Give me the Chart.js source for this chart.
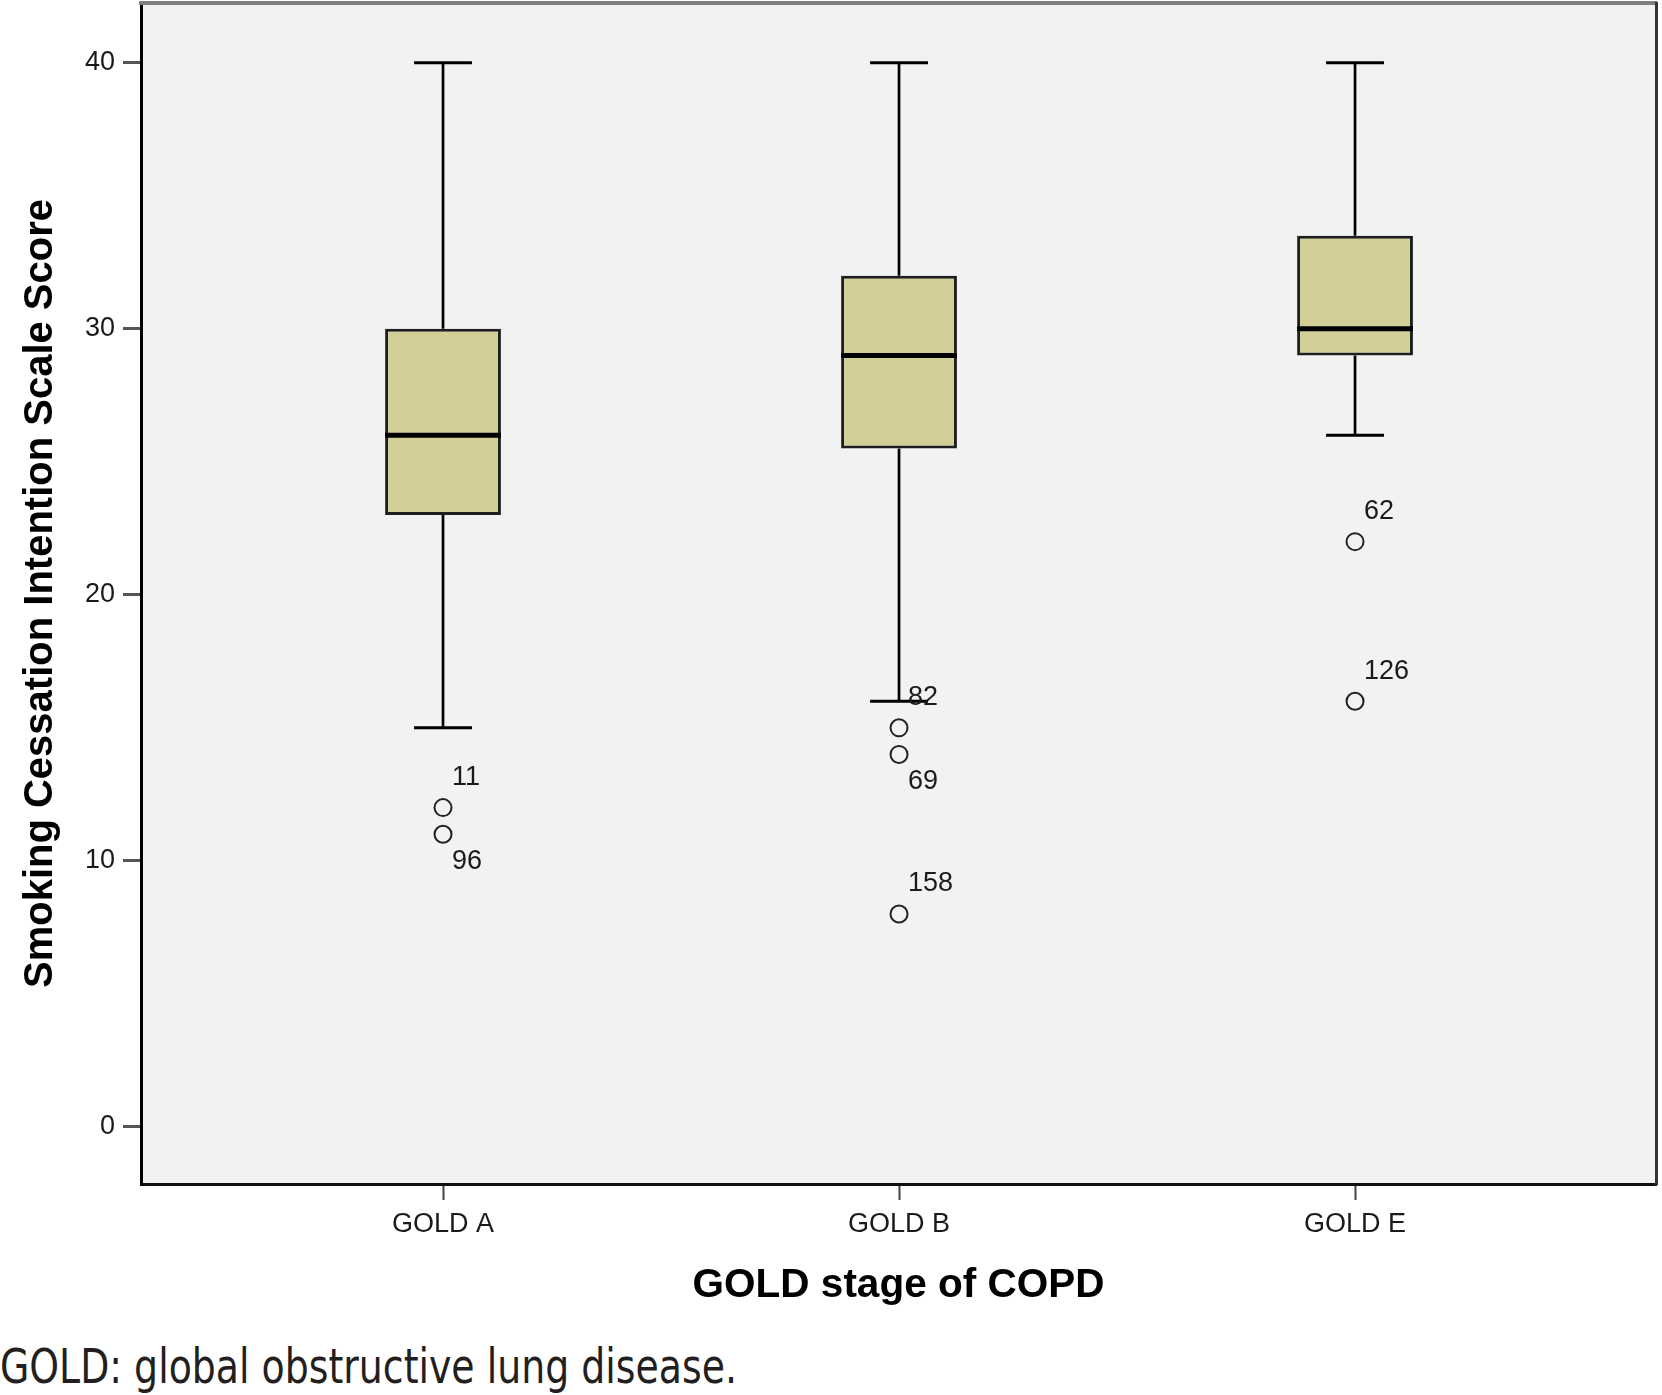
<!DOCTYPE html>
<html>
<head>
<meta charset="utf-8">
<script src="https://cdn.jsdelivr.net/npm/chart.js@4.4.1/dist/chart.umd.min.js"></script>
<style>
html,body{margin:0;padding:0;background:#fff;}
#wrap{position:relative;width:1662px;height:1395px;overflow:hidden;background:#fff;}
#c{position:absolute;left:0;top:0;}
#caption{position:absolute;left:0;top:1342px;font-family:'Liberation Sans Narrow','DejaVu Sans Condensed','Liberation Sans',sans-serif;font-size:48px;line-height:1;white-space:nowrap;color:#231f20;transform-origin:0 0;}
</style>
</head>
<body>
<div id="wrap">
<canvas id="c" width="1662" height="1320" style="width:1662px;height:1320px;"></canvas>
<div id="caption">GOLD: global obstructive lung disease.</div>
</div>
<script>
// ---- data ----
const categories = ['GOLD A', 'GOLD B', 'GOLD E'];
const whiskerLow = [15, 16, 26];
const q1 = [23, 25.5, 29];
const median = [26, 29, 30];
const q3 = [30, 32, 33.5];
const whiskerHigh = [40, 40, 40];
const outlierCategory = [0, 0, 1, 1, 1, 2, 2];
const outlierValues = [12, 11, 15, 14, 8, 22, 16];
const outlierLabels = ['11', '96', '82', '69', '158', '62', '126'];
const outlierLabelSide = ['above', 'below', 'above', 'below', 'above', 'above', 'above'];
const yTicks = [0, 10, 20, 30, 40];
const xTitle = 'GOLD stage of COPD';
const yTitle = 'Smoking Cessation Intention Scale Score';

// ---- derived datasets ----
const boxHalf = 0.127, capHalf = 0.0635;
const boxData = categories.map((c, i) => ({x: i, y: [q1[i], q3[i]]}));
const medianData = [];
const whiskerData = [];
const capData = [];
categories.forEach((c, i) => {
  medianData.push({x: i - boxHalf, y: median[i]}, {x: i + boxHalf, y: median[i]}, {x: i + boxHalf, y: null});
  whiskerData.push({x: i, y: q3[i]}, {x: i, y: whiskerHigh[i]}, {x: i, y: null},
                   {x: i, y: q1[i]}, {x: i, y: whiskerLow[i]}, {x: i, y: null});
  capData.push({x: i - capHalf, y: whiskerHigh[i]}, {x: i + capHalf, y: whiskerHigh[i]}, {x: i + capHalf, y: null},
               {x: i - capHalf, y: whiskerLow[i]}, {x: i + capHalf, y: whiskerLow[i]}, {x: i + capHalf, y: null});
});
const outlierData = outlierValues.map((v, k) => ({x: outlierCategory[k], y: v}));

Chart.defaults.font.family = "'Liberation Sans', Arial, sans-serif";
Chart.defaults.color = '#1a1a1a';

const plotBg = {
  id: 'plotBg',
  beforeDraw(chart) {
    const {ctx, chartArea: a} = chart;
    ctx.save();
    ctx.fillStyle = '#F2F2F2';
    ctx.fillRect(a.left, a.top, a.right - a.left, a.bottom - a.top);
    ctx.restore();
  }
};

const OUT_INDEX = 4;
const outlierLabelPlugin = {
  id: 'outlierLabels',
  afterDatasetsDraw(chart) {
    const ctx = chart.ctx;
    const meta = chart.getDatasetMeta(OUT_INDEX);
    ctx.save();
    ctx.font = "27px 'Liberation Sans', Arial, sans-serif";
    ctx.fillStyle = '#1a1a1a';
    ctx.textBaseline = 'middle';
    ctx.textAlign = 'left';
    meta.data.forEach((pt, k) => {
      const above = outlierLabelSide[k] === 'above';
      ctx.fillText(outlierLabels[k], pt.x + 9, pt.y + (above ? -30 : 27));
    });
    ctx.restore();
  }
};

function noPad(s) { s.paddingLeft = 0; s.paddingRight = 0; s.paddingTop = 0; s.paddingBottom = 0; }

const lineBase = {type: 'line', pointRadius: 0, pointHoverRadius: 0, fill: false, tension: 0,
  borderCapStyle: 'butt', xAxisID: 'x', yAxisID: 'y', spanGaps: false};

new Chart(document.getElementById('c'), {
  type: 'bar',
  data: {
    datasets: [
      {type: 'bar', data: boxData, backgroundColor: '#D2CE97', borderColor: '#1e1e1e', borderWidth: 3,
        borderSkipped: false, barPercentage: 0.254, categoryPercentage: 1, xAxisID: 'x', yAxisID: 'y', order: 2},
      Object.assign({}, lineBase, {data: whiskerData, borderColor: '#000', borderWidth: 2.7, order: 3}),
      Object.assign({}, lineBase, {data: capData, borderColor: '#000', borderWidth: 3, order: 3}),
      Object.assign({}, lineBase, {data: medianData, borderColor: '#000', borderWidth: 5, order: 1}),
      {type: 'line', data: outlierData, showLine: false, pointStyle: 'circle', pointRadius: 8.5, pointHoverRadius: 8.5,
        pointBorderWidth: 2, pointBorderColor: '#222', pointBackgroundColor: 'rgba(0,0,0,0)',
        xAxisID: 'x', yAxisID: 'y', order: 0}
    ]
  },
  options: {
    responsive: false,
    devicePixelRatio: 1,
    animation: false,
    layout: {autoPadding: false, padding: {top: 3, right: 6, left: 0, bottom: 0}},
    plugins: {legend: {display: false}, tooltip: {enabled: false}},
    scales: {
      x: {
        type: 'linear', position: 'bottom', min: -0.6623, max: 2.660, offset: false,
        afterBuildTicks: s => { s.ticks = categories.map((c, i) => ({value: i})); },
        ticks: {callback: (v, i) => categories[i], font: {size: 27}, color: '#1a1a1a', padding: 8,
          autoSkip: false, maxRotation: 0, minRotation: 0},
        grid: {offset: false, drawOnChartArea: false, drawTicks: true, tickLength: 16, tickColor: '#444', tickWidth: 2},
        border: {display: true, color: '#111', width: 3},
        title: {display: true, text: xTitle, font: {size: 40.5, weight: 'bold'}, color: '#000', padding: {top: 0, bottom: 10}},
        afterFit: s => { s.height = 136; noPad(s); }
      },
      y: {
        type: 'linear', position: 'left', min: -2.15, max: 42.25, offset: false,
        afterBuildTicks: s => { s.ticks = yTicks.map(v => ({value: v})); },
        ticks: {font: {size: 27}, color: '#1a1a1a', padding: 8},
        grid: {drawOnChartArea: false, drawTicks: true, tickLength: 18, tickColor: '#555', tickWidth: 3},
        border: {display: true, color: '#000', width: 3},
        title: {display: true, text: yTitle, font: {size: 40, weight: 'bold'}, color: '#000', padding: {top: 17, bottom: 0}},
        afterFit: s => { s.width = 141; noPad(s); }
      },
      xTop: {
        type: 'linear', position: 'top', min: -0.6623, max: 2.660, offset: false,
        ticks: {display: false}, grid: {display: false},
        border: {display: true, color: '#7f7f7f', width: 4},
        afterFit: s => { s.height = 0; noPad(s); }
      },
      yRight: {
        type: 'linear', position: 'right', min: -2.15, max: 42.25, offset: false,
        ticks: {display: false}, grid: {display: false},
        border: {display: true, color: '#333', width: 3},
        afterFit: s => { s.width = 0; noPad(s); }
      }
    }
  },
  plugins: [plotBg, outlierLabelPlugin]
});

// fit caption to its measured width in the reference
(function fitCaption() {
  const el = document.getElementById('caption');
  const w = el.getBoundingClientRect().width;
  if (w > 0) el.style.transform = 'scaleX(' + (737 / w) + ')';
})();
</script>
</body>
</html>
